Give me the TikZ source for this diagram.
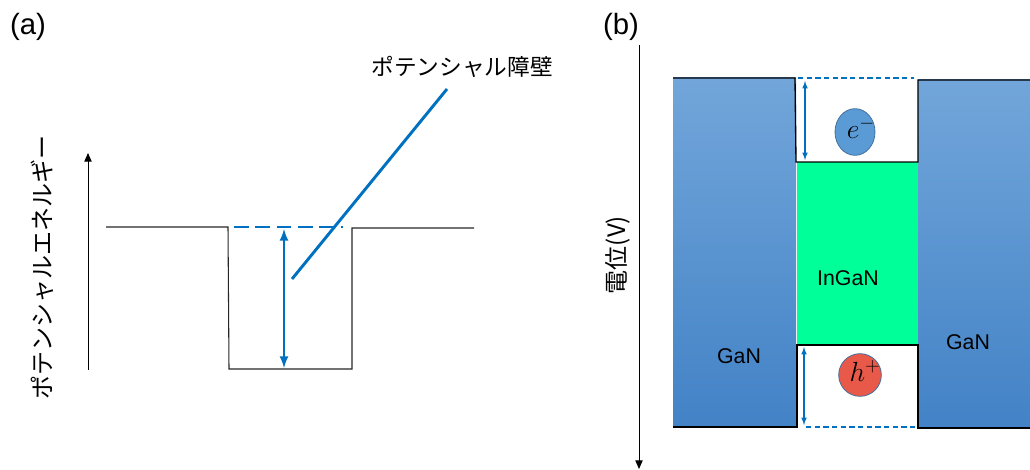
\documentclass[tikz,border=0pt]{standalone}
\usepackage{fontspec}
\setmainfont{Liberation Sans}
\newfontfamily\jpfont{Noto Sans CJK JP}
\usetikzlibrary{shapes.geometric, arrows.meta}

\definecolor{barblue}{RGB}{0,112,192}
\definecolor{gantop}{RGB}{114,166,218}
\definecolor{ganbot}{RGB}{66,130,198}
\definecolor{ingreen}{RGB}{0,255,153}
\definecolor{elecfill}{RGB}{91,155,213}
\definecolor{holefill}{RGB}{232,89,74}
\definecolor{rimblue}{RGB}{65,113,156}

\tikzset{
  panellabel/.style={font=\fontsize{22}{22}\selectfont},
  axislabel/.style={rotate=90, font=\jpfont\fontsize{18}{18}\selectfont},
  layerlabel/.style={font=\fontsize{16}{16}\selectfont},
  carrier/.style={draw=rimblue, line width=0.6pt, inner sep=0pt},
  axisline/.style={line width=0.75pt, -{Triangle[length=6.5pt, width=5.5pt]}},
}

\begin{document}
\begin{tikzpicture}[x=0.75pt, y=-0.75pt]
        \useasboundingbox (0,0) rectangle (1030,470);

        % Panel labels
        \node[panellabel] (labA) at (28,27) {(a)};
        \node[panellabel] (labB) at (621,27) {(b)};

        % (a) Energy axis
        \draw[axisline] (88,370) -- (88,153);
        \node[axislabel] (axA) at (42,267) {ポテンシャルエネルギー};

        % (a) Well profile
        \draw[black!85, line width=0.8pt] (106,227) -- (228,227) -- (229,369) -- (352,369)
            -- (352,228) -- (474,228);

        % (a) Barrier height
        \coordinate (wellTop) at (284,229);
        \coordinate (wellBot) at (284,368);
        \draw[barblue, line width=2.2pt, dash pattern=on 11pt off 5pt] (234,227) -- (343,227);
        \draw[barblue, line width=2pt, <->, >=latex] (wellTop) -- (wellBot);

        % (a) Barrier label and leader
        \node[font=\jpfont\fontsize{17}{17}\selectfont] (barLabel) at (462,67) {ポテンシャル障壁};
        \coordinate (barTip) at (447,89);
        \coordinate (barEnd) at (292,279);
        \draw[barblue, line width=2.2pt] (barTip) -- (barEnd);

        % (b) Potential axis
        \draw[axisline] (639,45) -- (639,469);
        \node[axislabel] (axB) at (618,255) {電位(V)};

        % (b) Layers
        \shade[top color=gantop, bottom color=ganbot] (673,78) rectangle (796,427);
        \shade[top color=gantop, bottom color=ganbot] (918,80) rectangle (1030,428);
        \fill[ingreen] (797,162) rectangle (918,345);

        % (b) Band edges
        \draw[line width=1pt] (673,78) -- (795,78) -- (796,162) -- (918,162) -- (918,80) -- (1030,80);
        \draw[line width=1pt] (673,427) -- (797,427) -- (797,345) -- (918,345) -- (918,428) -- (1030,428);

        % (b) Confinement depths
        \draw[barblue, line width=0.9pt, dash pattern=on 4pt off 2.5pt] (798,78) -- (914,78);
        \draw[barblue, line width=0.9pt, dash pattern=on 4pt off 2.5pt] (806,427) -- (916,427);
        \coordinate (eTop) at (805,81);
        \coordinate (eBot) at (805,160);
        \coordinate (hTop) at (804,347);
        \coordinate (hBot) at (804,425);
        \draw[barblue, line width=0.9pt, <->, >=latex] (eTop) -- (eBot);
        \draw[barblue, line width=0.9pt, <->, >=latex] (hTop) -- (hBot);

        % (b) Carriers
        \node[carrier, fill=elecfill, ellipse, minimum width=30pt, minimum height=35pt] (elec) at (855,132) {};
        \node (elecLabel) at (861,128) {\fontsize{21}{21}\selectfont$e^{-}$};
        \node[carrier, fill=holefill, circle, minimum size=32pt] (hole) at (860,375) {};
        \node (holeLabel) at (865,371) {\fontsize{21}{21}\selectfont$h^{+}$};

        % (b) Layer names
        \node[layerlabel] (ganL) at (739,356) {GaN};
        \node[layerlabel] (ganR) at (968,342) {GaN};
        \node[layerlabel] (ingan) at (848,278) {InGaN};

    \end{tikzpicture}
\end{document}
